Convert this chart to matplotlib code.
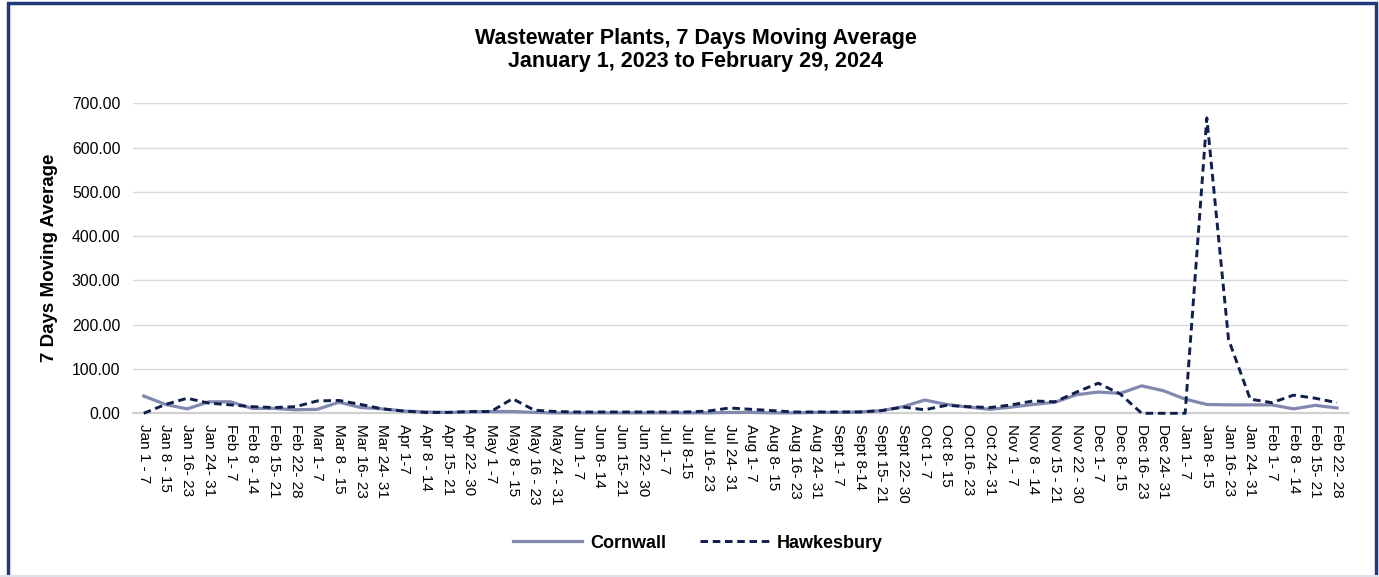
import matplotlib.pyplot as plt
from matplotlib.patches import Rectangle
from matplotlib.lines import Line2D

plt.rcParams['font.family'] = ['Liberation Sans', 'DejaVu Sans']

week_labels = [
    "Jan 1 - 7", "Jan 8 - 15", "Jan 16- 23", "Jan 24- 31",
    "Feb 1- 7", "Feb 8 - 14", "Feb 15- 21", "Feb 22- 28",
    "Mar 1- 7", "Mar 8 - 15", "Mar 16- 23", "Mar 24- 31",
    "Apr 1-7", "Apr 8 - 14", "Apr 15- 21", "Apr 22- 30",
    "May 1 -7", "May 8 - 15", "May 16 - 23", "May 24 - 31",
    "Jun 1- 7", "Jun 8- 14", "Jun 15- 21", "Jun 22- 30",
    "Jul 1- 7", "Jul 8-15", "Jul 16- 23", "Jul 24- 31",
    "Aug 1- 7", "Aug 8- 15", "Aug 16- 23", "Aug 24- 31",
    "Sept 1- 7", "Sept 8-14", "Sept 15- 21", "Sept 22- 30",
    "Oct 1- 7", "Oct 8- 15", "Oct 16- 23", "Oct 24- 31",
    "Nov 1 - 7", "Nov 8 - 14", "Nov 15 - 21", "Nov 22 - 30",
    "Dec 1- 7", "Dec 8- 15", "Dec 16- 23", "Dec 24- 31",
    "Jan 1- 7", "Jan 8- 15", "Jan 16- 23", "Jan 24- 31",
    "Feb 1- 7", "Feb 8 - 14", "Feb 15- 21", "Feb 22- 28",
]

cornwall = [39, 20, 10, 26, 26, 11, 11, 8, 9, 25, 13, 10,
            5, 3, 2, 3, 4, 4, 2, 1, 1, 1, 1, 1,
            1, 1, 1, 2, 2, 1, 1, 2, 2, 3, 6, 15,
            30, 20, 14, 9, 14, 20, 25, 42, 48, 45, 62, 51,
            32, 20, 19, 19, 19, 10, 18, 12]

hawkesbury = [0, 20, 34, 23, 19, 15, 13, 15, 28, 29, 20, 10,
              5, 2, 2, 4, 4, 33, 7, 4, 3, 3, 3, 3,
              3, 3, 5, 12, 9, 6, 3, 3, 3, 3, 6, 14,
              8, 18, 15, 13, 19, 28, 26, 48, 68, 44, 0, 0,
              0, 667, 167, 32, 24, 41, 34, 24]

x = list(range(len(week_labels)))

fig = plt.figure(figsize=(13.79, 5.77), dpi=100)
ax = fig.add_axes([0.0964, 0.2837, 0.881, 0.5373])

ax.plot(x, cornwall, color="#8288B0", linewidth=2.3, label="Cornwall",
        zorder=3, clip_on=False)
ax.plot(x, hawkesbury, color="#0E1F4D", linewidth=2.1,
        linestyle=(0, (2.6, 1.6)), label="Hawkesbury", zorder=4, clip_on=False)

ax.set_xlim(-0.5, len(x) - 0.5)
ax.set_ylim(0, 700)
ax.set_yticks(range(0, 701, 100))
ax.set_yticklabels([f"{v:.2f}" for v in range(0, 701, 100)], fontsize=11.3)
ax.set_xticks(x)
ax.set_xticklabels(week_labels, rotation=-90, fontsize=11, va="top", ha="center")
ax.tick_params(axis="both", length=0)
ax.tick_params(axis="y", pad=9)
ax.tick_params(axis="x", pad=8)

ax.grid(axis="y", color="#D9D9D9", linewidth=1)
ax.set_axisbelow(True)
for s in ["top", "right", "left"]:
    ax.spines[s].set_visible(False)
ax.spines["bottom"].set_color("#D0D0D0")
ax.spines["bottom"].set_linewidth(1.6)

ax.set_ylabel("7 Days Moving Average", fontsize=13.5, fontweight="bold", labelpad=10)

fig.text(696 / 1379, 1 - 50 / 577,
         "Wastewater Plants, 7 Days Moving Average\nJanuary 1, 2023 to February 29, 2024",
         ha="center", va="center", fontsize=15.5, fontweight="bold", linespacing=1.12)

fig.legend(loc="center", bbox_to_anchor=(698 / 1379, 1 - 543 / 577), ncol=2,
           frameon=False, handlelength=3.8, handletextpad=0.45, columnspacing=1.9,
           prop={"size": 13, "weight": "bold"})

# outer frame
fig.patches.append(Rectangle((8 / 1379, -0.01), (1376 - 8) / 1379, 1 - 3 / 577 + 0.01,
                             transform=fig.transFigure, fill=False,
                             edgecolor="#1F3B7B", linewidth=2.5))
fig.lines.append(Line2D([0, 1], [1 / 577, 1 / 577], transform=fig.transFigure,
                        color="#DCE0E8", linewidth=1.5))

fig.savefig("out.png", dpi=100)
